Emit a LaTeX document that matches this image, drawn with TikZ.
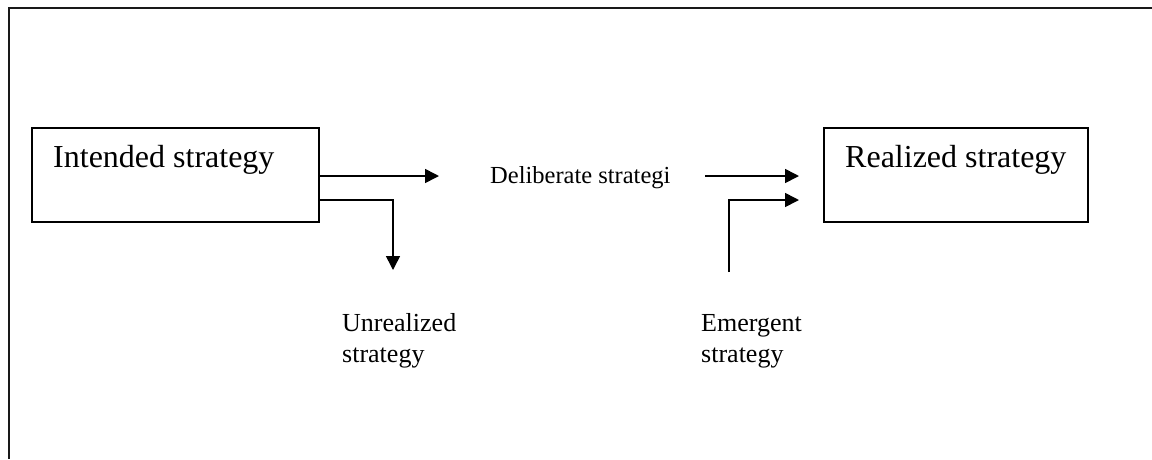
\documentclass[tikz,border=0pt]{standalone}
\usepackage{fontspec}
\setmainfont{Liberation Serif}
\usetikzlibrary{arrows.meta}
\tikzset{
  frameline/.style={line width=2.2pt, draw=black!90},
  box/.style={draw, line width=1.6pt, inner sep=0pt, outer sep=0pt},
  flow/.style={line width=1.6pt, -{Triangle[length=14pt,width=14pt]}},
  bigtext/.style={font=\fontsize{32}{38}\selectfont, inner sep=0pt, anchor=base west},
  midtext/.style={font=\fontsize{24.5}{30}\selectfont, inner sep=0pt, anchor=base west},
  smalltext/.style={font=\fontsize{26}{31}\selectfont, inner sep=0pt, anchor=base west, align=left},
}
\begin{document}
\begin{tikzpicture}[x=1pt, y=-1pt]
  \useasboundingbox (0,0) rectangle (1152,459);
  % open outer frame: top edge and left edge only
  \draw[frameline] (1152,8) -- (9,8) -- (9,459);

  % the two strategy boxes
  \node[box, minimum width=287pt, minimum height=94pt, anchor=north west] (intended) at (32,128) {};
  \node[box, minimum width=264pt, minimum height=94pt, anchor=north west] (realized) at (824,128) {};
  \node[bigtext] (intendedlbl) at (53,167) {Intended strategy};
  \node[bigtext] (realizedlbl) at (845,167) {Realized strategy};

  % labels between the boxes (base anchor sits on the last line)
  \node[midtext] (deliberate) at (490,183) {Deliberate strategi};
  \node[smalltext] (unrealized) at (342,362) {Unrealized\\strategy};
  \node[smalltext] (emergent) at (701,362) {Emergent\\strategy};

  % connector anchors
  \coordinate (outA) at (intended.east |- 0,176);
  \coordinate (outB) at (intended.east |- 0,200);
  \coordinate (tipA) at (439,176);
  \coordinate (tipB) at (393,270);
  \coordinate (delibStart) at (705,176);
  \coordinate (inA) at (799,176);
  \coordinate (emergeStart) at (729,272);
  \coordinate (inB) at (799,200);

  % arrows
  \draw[flow] (outA) -- (tipA);
  \draw[flow] (outB) -| (tipB);
  \draw[flow] (delibStart) -- (inA);
  \draw[flow] (emergeStart) |- (inB);
\end{tikzpicture}
\end{document}
